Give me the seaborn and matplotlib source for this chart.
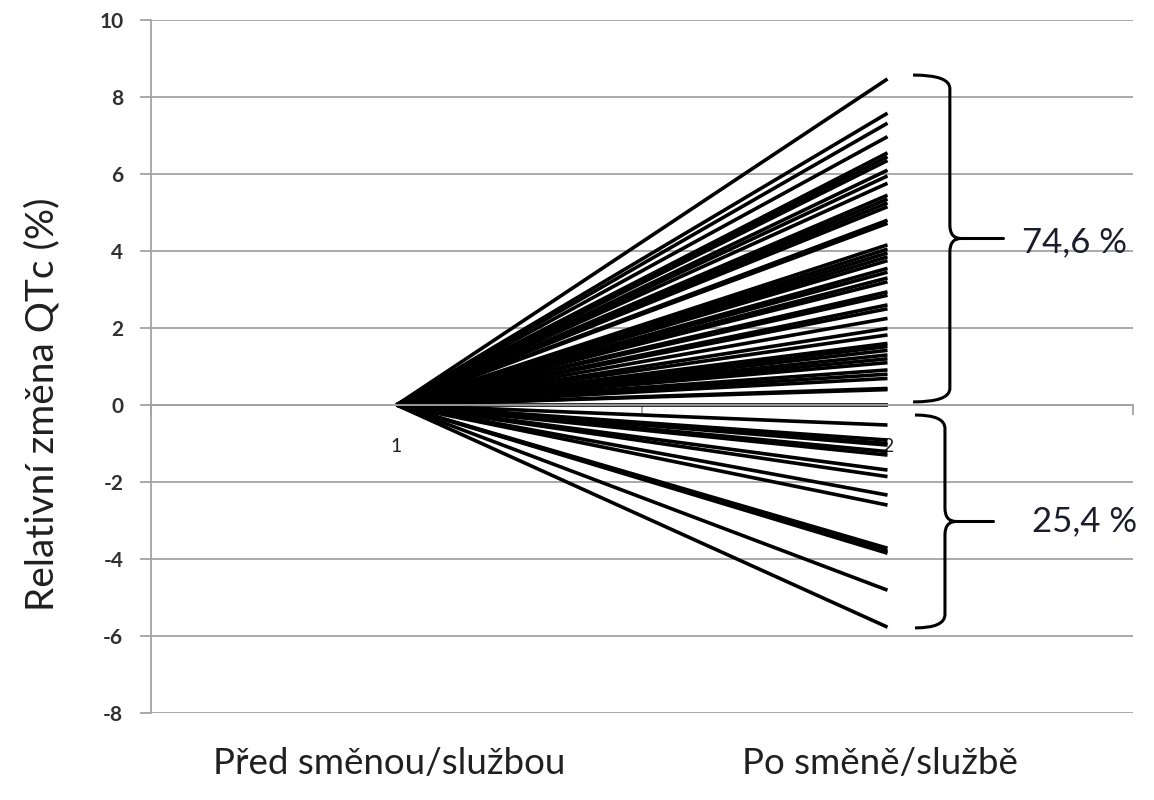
import numpy as np
import pandas as pd
import matplotlib
matplotlib.use("Agg")
import matplotlib.pyplot as plt
from matplotlib.path import Path
from matplotlib.patches import PathPatch
import seaborn as sns

# ---- data ----
moments = [1, 2]
moment_labels = ["1", "2"]
before_value = 0.0
after_pos = [8.47, 7.58, 7.32, 6.97, 6.55, 6.45, 6.35, 6.10, 5.95, 5.76,
             5.45, 5.35, 5.25, 5.15, 4.80, 4.72, 4.16, 4.05, 3.95, 3.85,
             3.75, 3.55, 3.45, 3.30, 3.20, 2.94, 2.85, 2.60, 2.50, 2.25,
             1.99, 1.82, 1.60, 1.52, 1.42, 1.30, 1.20, 1.10, 0.91, 0.80,
             0.69, 0.43, 0.40, 0.00]
after_neg = [-0.52, -0.91, -1.00, -1.04, -1.21, -1.30, -1.69, -1.86,
             -2.34, -2.60, -3.72, -3.80, -3.85, -4.81, -5.77]
y_ticks = [-8, -6, -4, -2, 0, 2, 4, 6, 8, 10]
ylabel = "Relativní změna QTc (%)"
group_labels = ["Před směnou/službou", "Po směně/službě"]

after = after_pos + after_neg
rows = []
for i, v in enumerate(after):
    rows.append({"id": i, "moment": moments[0], "value": before_value})
    rows.append({"id": i, "moment": moments[1], "value": v})
df = pd.DataFrame(rows)

sns.set_theme(style="white")
plt.rcParams["font.family"] = ["Lato", "DejaVu Sans"]

fig = plt.figure(figsize=(11.54, 8.0), dpi=100)
ax = fig.add_axes([0.1309, 0.10875, 0.8509, 0.86625])

sns.lineplot(data=df, x="moment", y="value", units="id", estimator=None,
             color="black", linewidth=2.6, ax=ax, legend=False,
             solid_capstyle="butt")

grid_c = "#a3a3a3"
ax.set_ylim(-8, 10)
ax.set_xlim(0.5, 2.5)
ax.set_yticks(y_ticks)
ax.set_yticklabels([str(t) for t in y_ticks], fontsize=15, fontweight="bold",
                   color="#303030")
ax.yaxis.grid(True, color=grid_c, linewidth=1.3)
ax.set_axisbelow(True)
ax.tick_params(axis="y", direction="out", length=8, width=1.3, color=grid_c,
               left=True, pad=12)

# category axis at y=0
for s in ["top", "right"]:
    ax.spines[s].set_visible(False)
ax.spines["left"].set_color(grid_c)
ax.spines["left"].set_linewidth(1.3)
ax.spines["bottom"].set_position(("data", 0))
ax.spines["bottom"].set_color(grid_c)
ax.spines["bottom"].set_linewidth(1.3)
ax.set_xticks([0.5, 1.5, 2.5])
ax.set_xticklabels(["", "", ""])
ax.tick_params(axis="x", which="major", direction="out", length=7, width=1.3,
               color=grid_c, bottom=True)
ax.set_xticks(moments, minor=True)
ax.set_xticklabels(moment_labels, minor=True, fontsize=14, color="#202020")
ax.tick_params(axis="x", which="minor", length=0, pad=24)
ax.set_xlabel("")
ax.set_ylabel(ylabel, fontsize=28, color="#202020")
ax.yaxis.set_label_coords(-0.092, 0.445)

# group labels below the plot
for m, lab in zip(moments, group_labels):
    ax.text(m - 0.015, -9.3, lab, ha="center", va="center", fontsize=26.5,
            color="#202020", clip_on=False)


def brace(ax, x_left, x_spine, x_tip, x_end, y_top, y_bot, r=0.35):
    y_mid = (y_top + y_bot) / 2
    verts = [
        (x_left, y_top), (x_spine, y_top), (x_spine, y_top - r),
        (x_spine, y_mid + r),
        (x_spine, y_mid), (x_tip, y_mid),
        (x_spine, y_mid), (x_spine, y_mid - r),
        (x_spine, y_bot + r),
        (x_spine, y_bot), (x_left, y_bot),
    ]
    codes = [Path.MOVETO, Path.CURVE3, Path.CURVE3, Path.LINETO,
             Path.CURVE3, Path.CURVE3, Path.CURVE3, Path.CURVE3,
             Path.LINETO, Path.CURVE3, Path.CURVE3]
    ax.add_patch(PathPatch(Path(verts, codes), fill=False, lw=2.2,
                           edgecolor="black", clip_on=False))
    ax.plot([x_tip, x_end], [y_mid, y_mid], color="black", lw=2.2,
            clip_on=False)
    return y_mid


n = len(after)
pct_pos = 100 * len(after_pos) / n
pct_neg = 100 * len(after_neg) / n
ym1 = brace(ax, 2.052, 2.127, 2.15, 2.235, max(after_pos) + 0.1, 0.08)
ym2 = brace(ax, 2.056, 2.117, 2.14, 2.215, -0.26, min(after_neg) - 0.02)
ax.text(2.274, ym1 - 0.1, f"{pct_pos:.1f} %".replace(".", ","), ha="left",
        va="center", fontsize=25, color="#1c1c2c")
ax.text(2.294, ym2, f"{pct_neg:.1f} %".replace(".", ","), ha="left",
        va="center", fontsize=25, color="#1c1c2c")

fig.savefig("out.png", dpi=100, facecolor="white")
